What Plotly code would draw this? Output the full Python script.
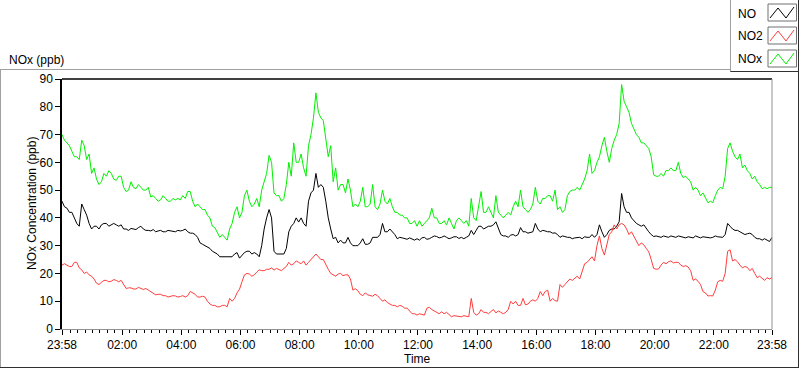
import datetime as dt
import plotly.graph_objects as go

# ---------------- data (5-minute readings, starting 23:58) ----------------
start = dt.datetime(2020, 1, 1, 23, 58)
minutes = list(range(0, 1441, 5))

nox = [70, 68, 67, 66, 64, 62, 62, 61, 68, 66, 61, 63,
       56, 58, 54, 52, 53, 56, 55, 57, 56, 54, 53.5, 55,
       55, 51, 49.5, 50, 53, 51, 50.5, 52, 51, 50, 50, 51,
       47.5, 48, 47, 46, 46.5, 48, 47, 46, 46, 47, 46.5, 47,
       46.5, 48, 47, 49.5, 49.5, 46, 44, 45, 44, 43, 43, 41,
       40, 37, 36.5, 35, 33, 34, 33, 32, 36, 38, 42, 44,
       40, 42, 48, 50, 46, 44, 45, 47, 44, 50, 53, 56,
       62.5, 60, 49, 48, 48, 46, 47, 52, 60, 55, 67, 60,
       60, 63, 58, 55, 66, 70, 76, 85, 78, 76, 75, 68,
       62, 66, 53, 58, 50, 52, 52, 49, 54, 50, 44, 45,
       44, 46, 51, 44, 44, 45, 52, 44, 43, 45, 50, 46,
       45, 47, 44, 42, 42, 41, 41, 40, 40, 38, 38, 39,
       37, 39, 37, 38, 39, 40, 43.5, 40, 40, 38, 38, 39,
       37.5, 40, 38, 36, 39, 40, 39, 38, 39, 37, 47, 40,
       39, 45, 49.5, 42, 42, 44, 42, 40, 48, 42, 41, 40,
       41, 42, 41, 44, 46, 44, 50, 44, 43, 42, 43, 45,
       51, 46, 45, 47, 47, 48, 48, 46, 50, 43, 44, 42,
       43, 48, 49.5, 50, 50, 51, 50, 52, 54, 57, 63, 56,
       57, 60, 62, 66, 69, 64, 60, 65, 68, 70, 74, 88,
       82, 80, 78, 74, 72, 70, 69, 67, 67, 66, 65, 62,
       55.5, 55, 55, 56, 55, 57, 57, 58, 57, 57, 60, 56,
       54.5, 55, 54, 53, 50, 51, 50, 48, 49, 47, 45.5, 46,
       45.5, 48, 50, 51, 50.5, 55, 65, 67, 64, 62, 61, 63,
       58, 59, 57, 56, 54, 55, 53, 52, 50.5, 51, 50.5, 51,
       51]

no = [46, 44, 43.5, 42, 42, 40, 38, 37, 45, 43, 41, 38,
      36, 37, 37, 36, 37.5, 38, 38, 37, 37.5, 38, 37.5, 37,
      37.5, 36, 36, 35.5, 36.2, 36, 35.8, 36.5, 37, 36, 35.5, 35.5,
      35.3, 35.8, 35, 35.3, 35.5, 35, 35, 35.5, 35.3, 35, 35, 35.5,
      35.3, 35.5, 36, 35, 34.5, 34.5, 34, 33, 31, 30.5, 30, 29.5,
      29, 28, 27.5, 27, 26, 26, 25.8, 26, 25.8, 26, 27, 27.5,
      25.5, 26.5, 27.5, 28, 28, 27, 27.5, 27, 26, 30, 36, 40,
      43, 40, 28, 27, 27, 27, 27, 29, 35, 37, 38, 40,
      38.5, 40, 38, 37, 46, 49, 50, 56, 51, 52, 51, 46,
      40, 36, 32.5, 33, 31, 32, 31, 31, 33, 31, 30, 30,
      30, 31, 32.5, 30.5, 30.5, 31, 33, 33, 33, 34, 38, 35,
      35, 36, 35, 34, 32.5, 33, 32.8, 32.5, 32.3, 32.8, 32.5, 32,
      32.5, 32, 32.8, 33, 32.3, 32.5, 33, 33.5, 33.3, 32.8, 33, 33.5,
      33, 32.5, 32.8, 33.2, 33.2, 32.6, 33, 32.5, 33, 33.5, 35.5, 34,
      35.5, 37, 37, 36, 36.5, 37, 37, 37.5, 38.6, 36, 34, 33.5,
      33.5, 33, 33.8, 34, 33.5, 34, 36.5, 35, 35, 34.5, 34.8, 35,
      38, 36, 35, 35.5, 35.3, 35, 35, 34.5, 34.6, 34, 33, 33.5,
      33.3, 33, 33, 32.5, 32.8, 33, 33, 32.5, 33.2, 33, 33, 34,
      33, 34, 37.5, 35, 33, 34, 35.5, 36, 36, 37, 38.6, 48.8,
      44, 42, 42, 40, 39, 38, 37.5, 37, 37.5, 36, 35, 34,
      33.3, 33.5, 33.3, 33, 33.5, 33.3, 33, 33.5, 33.3, 33, 33.5, 33.2,
      33, 32.8, 33.2, 33, 32.8, 33.5, 33, 32.8, 33.2, 33, 33, 32.8,
      33, 33.5, 33.2, 33, 33, 34, 38, 37, 36, 35.5, 35.5, 35,
      34.5, 34, 34.3, 34.5, 34, 33, 32.5, 32.5, 32, 32.5, 32, 31.5,
      33]

no2 = [23, 23.5, 23, 22.5, 22.5, 24, 24, 22, 21.3, 20, 20.5, 19.5,
       19, 18, 16.5, 16, 16.8, 17.5, 17.5, 17, 17.2, 17.8, 17.5, 17,
       17.5, 16, 14.6, 14.8, 14.8, 14.4, 14.4, 15, 14.6, 14.2, 14.6, 14,
       13.5, 12.8, 12.3, 12.5, 12.5, 12, 12, 11.5, 11.7, 12, 11.9, 11.5,
       11.7, 12, 11.5, 12, 13.5, 13, 12.5, 11.5, 11.5, 11.8, 11.5, 10,
       9, 8.5, 8.5, 8, 8, 8.5, 8.5, 8, 11, 10, 11, 13,
       14.3, 17, 19.5, 20, 19.8, 19, 19.5, 20.5, 21.3, 21, 21, 21.5,
       21.5, 22, 21.2, 21.8, 21.5, 21, 21.8, 22.5, 24, 23, 23.5, 24.5,
       24, 23.5, 24.5, 23, 24, 25, 26, 27, 26, 25, 25, 23,
       21.5, 20, 19.5, 19, 19.8, 20, 19.2, 19.5, 19.5, 18, 14, 14.5,
       13.8, 12.5, 12, 13, 12.3, 12, 11.8, 12.5, 12, 11, 10, 10.5,
       9.5, 9, 8.5, 8.5, 8, 8.5, 8.2, 7.5, 7.5, 6.5, 5.5, 5.5,
       5, 5.5, 5.2, 5, 7.5, 7.8, 7, 6.5, 6, 5.5, 6.2, 5.5,
       6, 5, 4.4, 4.8, 4.6, 4.4, 4.4, 4.8, 4.5, 4.4, 11, 6,
       5, 5.5, 7, 6, 6, 5.5, 6.3, 7, 5.8, 6.5, 6, 5.5,
       6, 7, 10, 9, 10, 8.5, 8.5, 11, 8.7, 9, 10, 10.5,
       10, 11, 13.5, 12, 13.5, 14, 10, 11, 10.2, 10, 16, 15,
       16, 17, 18, 17.5, 18.3, 19, 18, 21, 23.5, 24, 25, 26,
       24.5, 30, 33.5, 29, 26.6, 30, 34, 35, 37.5, 36, 37.5, 38,
       37.5, 36, 34, 35, 33.5, 32, 30, 31, 30.3, 29, 27.8, 25,
       21.8, 21.5, 21.6, 23, 24, 23.5, 24.2, 24.5, 23.8, 24, 24, 23,
       22.5, 22.8, 22.3, 21, 17.5, 18, 17.2, 16, 13.5, 13, 11.9, 12,
       11.9, 14, 17, 17.5, 17.2, 20, 28, 28.5, 24.5, 25, 24.2, 23,
       22, 22.5, 22.2, 21, 21.8, 20, 18.5, 19, 18.3, 17.5, 18.5, 18,
       18.5]

series_names = ["NO", "NO2", "NOx"]
series_colors = ["#000000", "#FF3C3C", "#00F000"]
y_ticks = list(range(0, 91, 10))
x_tick_labels = ["23:58", "02:00", "04:00", "06:00", "08:00", "10:00", "12:00",
                 "14:00", "16:00", "18:00", "20:00", "22:00", "23:58"]

# ---------------- build ----------------
times = [start + dt.timedelta(minutes=m) for m in minutes]
end = start + dt.timedelta(days=1)
tick_vals = [start] + [dt.datetime(2020, 1, 2, h, 0) for h in range(2, 23, 2)] + [end]

W, H = 800, 369
L, R, T, B = 62, 772, 79, 329
PW, PH = R - L, B - T


def px(x):
    return (x - L) / PW


def py(y):
    return (B - y) / PH


font = dict(family="Liberation Sans, Arial, sans-serif", size=12, color="#000000")

fig = go.Figure()
for name, vals, col in zip(series_names, [no, no2, nox], series_colors):
    fig.add_trace(go.Scatter(x=times, y=vals, mode="lines", name=name,
                             line=dict(color=col, width=1), showlegend=False))

shapes = []


def line(x0, y0, x1, y1, color, width=1):
    shapes.append(dict(type="line", xref="paper", yref="paper",
                       x0=px(x0), y0=py(y0), x1=px(x1), y1=py(y1),
                       line=dict(color=color, width=width), layer="above"))


# outer panel
line(0, 69.5, 730, 69.5, "#A0A0A0")
line(0.5, 69.5, 0.5, 367.5, "#A0A0A0")
line(0, 367.5, 799, 367.5, "#303030")
line(798.5, 72, 798.5, 367.5, "#303030")
# plot frame (top black, right gray)
line(L, T, R, T, "#000000", 1.5)
line(R, T, R, B, "#909090")
# legend box
line(730.5, 0, 730.5, 72, "#A0A0A0")
line(730.5, 71.5, 799, 71.5, "#303030")
line(798.5, 0, 798.5, 72, "#303030")

annotations = []
icon_tops = [4, 27, 50]
text_centers = [13.5, 35.5, 59]
for name, col, top, tc in zip(series_names, series_colors, icon_tops, text_centers):
    shapes.append(dict(type="rect", xref="paper", yref="paper",
                       x0=px(768), x1=px(796.5), y0=py(top), y1=py(top + 17),
                       line=dict(color="#707070", width=1), fillcolor="white",
                       layer="above"))
    pts = [(770, top + 14), (778, top + 4), (786, top + 14), (794, top + 3)]
    path = "M " + " L ".join(f"{px(a)},{py(b)}" for a, b in pts)
    shapes.append(dict(type="path", xref="paper", yref="paper", path=path,
                       line=dict(color=col, width=1), layer="above"))
    annotations.append(dict(text=name, xref="paper", yref="paper", x=px(736),
                            y=py(tc), xanchor="left", yanchor="middle",
                            showarrow=False, font=font))

annotations += [
    dict(text="NOx (ppb)", xref="paper", yref="paper", x=px(7), y=py(60),
         xanchor="left", yanchor="middle", showarrow=False, font=font),
    dict(text="NOx Concentration (ppb)", xref="paper", yref="paper", x=px(32),
         y=0.5, xanchor="center", yanchor="middle", textangle=-90,
         showarrow=False, font=font),
    dict(text="Time", xref="paper", yref="paper", x=0.5, y=py(359),
         xanchor="center", yanchor="middle", showarrow=False, font=font),
]

fig.update_layout(
    width=W, height=H,
    margin=dict(l=L, r=W - R, t=T, b=H - B, pad=0),
    paper_bgcolor="white", plot_bgcolor="white",
    font=font, showlegend=False,
    shapes=shapes, annotations=annotations,
    xaxis=dict(type="date", range=[start, end], tickvals=tick_vals,
               ticktext=x_tick_labels, ticks="outside", ticklen=5,
               tickcolor="#000000", showgrid=False, zeroline=False,
               showline=True, linecolor="#909090", linewidth=1,
               tickfont=font,
               minor=dict(dtick=15 * 60 * 1000, tick0="2020-01-02 00:00",
                          ticks="outside", ticklen=3, tickcolor="#000000",
                          showgrid=False)),
    yaxis=dict(range=[0, 90], tickvals=y_ticks, ticks="outside", ticklen=5,
               tickcolor="#000000", showgrid=False, zeroline=False,
               showline=True, linecolor="#000000", linewidth=1.5,
               tickfont=font),
)

fig.write_html(
    "out.html",
    config={"displayModeBar": False},
    post_script="document.body.style.margin='0';document.body.style.overflow='hidden';",
)
